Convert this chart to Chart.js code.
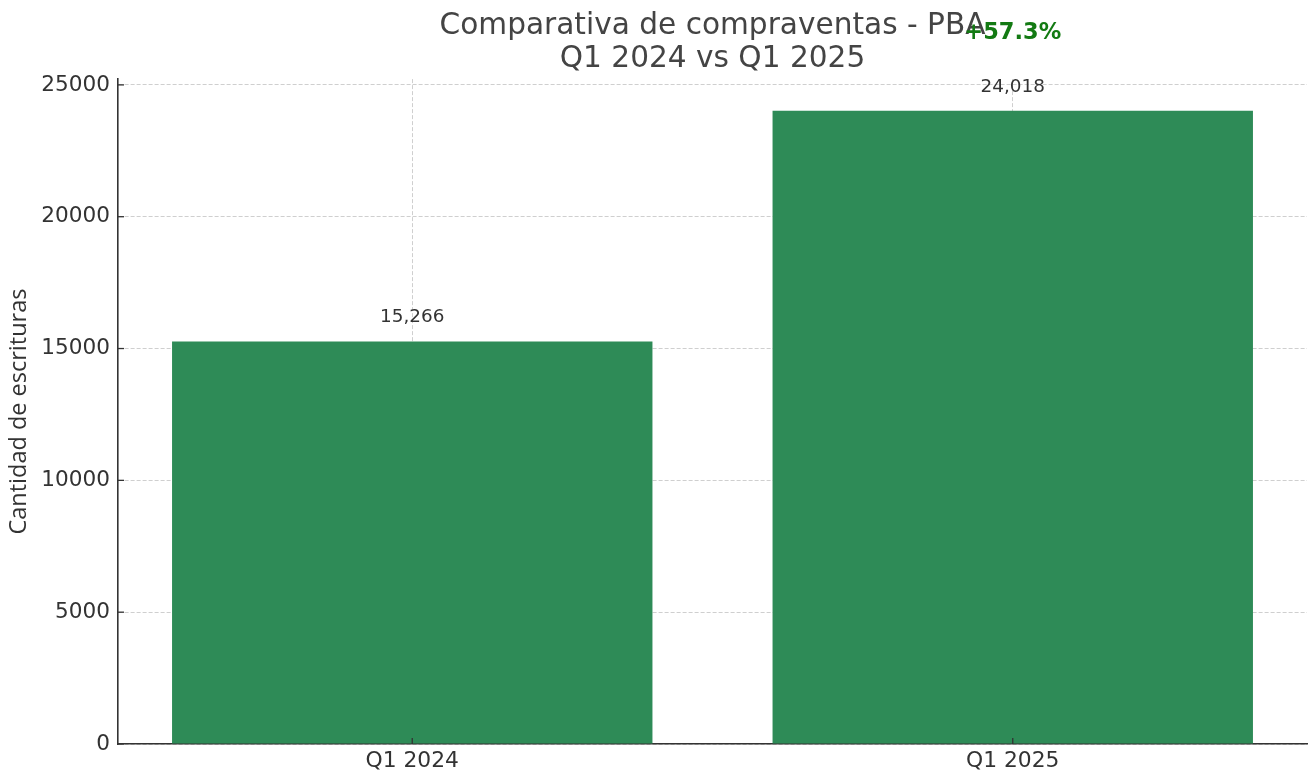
<!DOCTYPE html>
<html>
<head>
<meta charset="utf-8">
<script src="https://cdn.jsdelivr.net/npm/chart.js@4/dist/chart.umd.min.js"></script>
<style>
  html, body { margin:0; padding:0; background:#fff; }
  #wrap { width:1310px; height:773px; }
</style>
</head>
<body>
<div id="wrap"><canvas id="chart" width="1310" height="773"></canvas></div>
<script>
// ── Data ─────────────────────────────────────────────
const CATEGORIES = ["Q1 2024", "Q1 2025"];
const VALUES     = [15266, 24018];
const Y_TICKS    = [0, 5000, 10000, 15000, 20000, 25000];
const CHANGE_TXT = "+57.3%";

const INK   = "#333333";
const GREEN = "#2E8B57";
const GRID  = "rgba(195,195,195,0.8)";

// ── Bar value labels + inward tick marks ─────────────
const extrasPlugin = {
  id: "extras",
  afterDraw(chart) {
    const ctx = chart.ctx, x = chart.scales.x, y = chart.scales.y;
    const area = chart.chartArea;
    ctx.save();
    // tiny inward ticks, like the original
    ctx.strokeStyle = INK; ctx.lineWidth = 1.3;
    Y_TICKS.forEach(v => {
      const py = y.getPixelForValue(v);
      ctx.beginPath(); ctx.moveTo(area.left, py); ctx.lineTo(area.left + 6, py); ctx.stroke();
    });
    CATEGORIES.forEach((c, i) => {
      const px = x.getPixelForValue(i);
      ctx.beginPath(); ctx.moveTo(px, area.bottom); ctx.lineTo(px, area.bottom - 6); ctx.stroke();
    });
    // value labels
    ctx.fillStyle = INK;
    ctx.font = "18.4px 'DejaVu Sans'";
    ctx.textAlign = "center"; ctx.textBaseline = "middle";
    VALUES.forEach((v, i) => {
      ctx.fillText(v.toLocaleString("en-US"), x.getPixelForValue(i), y.getPixelForValue(v) - 24);
    });
    // change label over the second bar
    ctx.fillStyle = "#137a13";
    ctx.font = "bold 22.5px 'DejaVu Sans'";
    ctx.fillText(CHANGE_TXT, x.getPixelForValue(1), y.getPixelForValue(VALUES[1] * 1.1) - 14);
    ctx.restore();
  }
};

new Chart(document.getElementById("chart").getContext("2d"), {
  type: "bar",
  data: {
    datasets: [{
      data: VALUES.map((v, i) => ({ x: i, y: v })),
      backgroundColor: GREEN,
      borderWidth: 0,
      categoryPercentage: 1,
      barPercentage: 0.8
    }]
  },
  options: {
    responsive: false,
    animation: false,
    layout: { padding: { top: 0, right: 3, bottom: 0, left: 0 } },
    plugins: {
      legend: { display: false },
      tooltip: { enabled: false },
      title: {
        display: true,
        fullSize: false,
        text: ["Comparativa de compraventas - PBA", "Q1 2024 vs Q1 2025"],
        color: "#444",
        font: { family: "'DejaVu Sans'", size: 29.6, weight: "normal", lineHeight: 1.1 },
        padding: { top: 10, bottom: 4 }
      }
    },
    scales: {
      x: {
        type: "linear",
        min: -0.49, max: 1.49,
        offset: false,
        z: 1,
        afterBuildTicks: s => { s.ticks = CATEGORIES.map((c, i) => ({ value: i })); },
        afterFit: s => { s.height = 29; },
        ticks: {
          callback: v => CATEGORIES[v],
          color: INK, padding: 4,
          font: { family: "'DejaVu Sans'", size: 21.8 }
        },
        grid: { offset: false, drawTicks: false, color: GRID, lineWidth: 1 },
        border: { display: true, color: INK, width: 1.6, dash: [4, 2] }
      },
      y: {
        min: 0, max: 25219,
        z: 1,
        afterBuildTicks: s => { s.ticks = Y_TICKS.map(v => ({ value: v })); },
        afterFit: s => { s.width = 118; },
        ticks: {
          callback: v => String(v),
          color: INK, padding: 8,
          font: { family: "'DejaVu Sans'", size: 21.6 }
        },
        title: {
          display: true,
          text: "Cantidad de escrituras",
          color: INK,
          font: { family: "'Open Sans'", size: 23.5 },
          padding: { top: 5, bottom: 0 }
        },
        grid: { drawTicks: false, color: GRID, lineWidth: 1 },
        border: { display: true, color: INK, width: 1.6, dash: [4, 2] }
      }
    }
  },
  plugins: [extrasPlugin]
});
</script>
</body>
</html>
